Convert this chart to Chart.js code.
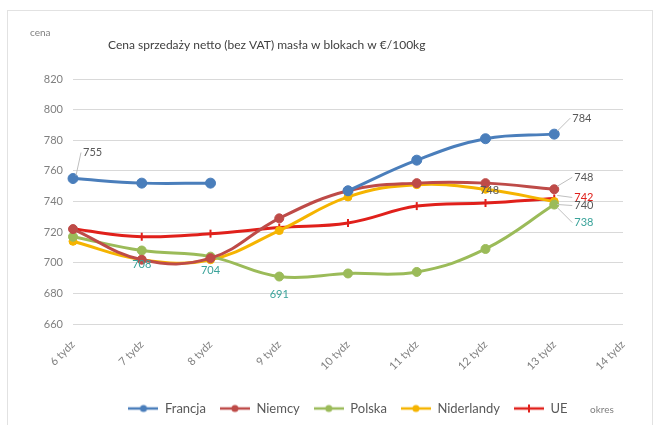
<!DOCTYPE html>
<html>
<head>
<meta charset="utf-8">
<script src="https://cdn.jsdelivr.net/npm/chart.js@4.4.1/dist/chart.umd.min.js"></script>
<style>
  body { margin: 0; background: #fff; }
  #wrap { position: absolute; left: 0; top: 0; width: 655px; height: 425px; }
  #frame { position: absolute; left: 7px; top: 10px; width: 644px; height: 420px; border: 1px solid #e2e2e2; }
</style>
</head>
<body>
<div id="frame"></div>
<div id="wrap"><canvas id="lineChart" width="655" height="425"></canvas></div>
<script>
// chart data
var weeks = ['6 tydz', '7 tydz', '8 tydz', '9 tydz', '10 tydz', '11 tydz', '12 tydz', '13 tydz', '14 tydz'];
var francja = [755, 752, 752, null, 747, 767, 781, 784, null];
var niemcy = [722, 702, 703, 729, 747, 752, 752, 748, null];
var polska = [717, 708, 704, 691, 693, 694, 709, 738, null];
var niderlandy = [714, 702, 702, 721, 743, 751, 748, 740, null];
var ue = [722, 717, 719, 723, 726, 737, 739, 742, null];
var yTicks = [660, 680, 700, 720, 740, 760, 780, 800, 820];

// which points carry a value label: [dataset, index, dx, dy, colour]
var valueLabels = [
    [0, 0, 10, -26, '#595959'],
    [0, 7, 18, -16, '#595959'],
    [2, 1, 0, 14, '#3aa39a'],
    [2, 2, 0, 14, '#3aa39a'],
    [2, 3, 0, 18, '#3aa39a'],
    [2, 7, 20, 18, '#3aa39a'],
    [1, 7, 20, -12, '#595959'],
    [4, 7, 20, -1, '#e0201b'],
    [3, 7, 20, 4, '#595959'],
    [3, 6, 4, 1, '#595959']
];

var FONT = 'Lato, "Open Sans", sans-serif';

function legendIcon(color, style) {
    var c = document.createElement('canvas');
    c.width = 30; c.height = 10;
    var g = c.getContext('2d');
    g.strokeStyle = color; g.lineWidth = 2.5;
    g.beginPath(); g.moveTo(0, 5); g.lineTo(30, 5); g.stroke();
    g.fillStyle = color;
    if (style === 'line') {
        g.lineWidth = 2; g.beginPath(); g.moveTo(15, 1); g.lineTo(15, 9); g.stroke();
    } else {
        g.beginPath(); g.arc(15, 5, 3.5, 0, Math.PI * 2); g.fill();
    }
    return c;
}

function series(label, data, color, style, radius) {
    return {
        label: label,
        data: data,
        borderColor: color,
        backgroundColor: color,
        pointBackgroundColor: color,
        pointBorderColor: color,
        pointStyle: style,
        pointRadius: radius,
        pointRotation: style === 'line' ? 90 : 0,
        pointBorderWidth: style === 'line' ? 2 : 1,
        borderWidth: 3,
        tension: 0.4,
        spanGaps: false,
        fill: false
    };
}

var textPlugin = {
    id: 'texts',
    afterDraw: function (chart) {
        var c = chart.ctx;
        c.save();
        c.fillStyle = '#404040';
        c.font = '12px ' + FONT;
        c.textBaseline = 'middle';
        c.fillText('Cena sprzedaży netto (bez VAT) masła w blokach w €/100kg', 108, 45);
        c.fillStyle = '#7f7f7f';
        c.font = '10px ' + FONT;
        c.fillText('cena', 30, 33);
        c.fillText('okres', 590, 410);
        c.restore();
    },
    afterDatasetsDraw: function (chart) {
        var c = chart.ctx;
        c.save();
        c.font = '11px ' + FONT;
        c.textBaseline = 'middle';
        valueLabels.forEach(function (v) {
            var ds = chart.data.datasets[v[0]];
            var val = ds.data[v[1]];
            var pt = chart.getDatasetMeta(v[0]).data[v[1]];
            var x = pt.x + v[2], y = pt.y + v[3];
            if (Math.abs(v[2]) > 8) {
                c.strokeStyle = '#bfbfbf'; c.lineWidth = 1;
                c.beginPath(); c.moveTo(pt.x + 3, pt.y + (v[3] > 0 ? 3 : -3)); c.lineTo(x - 2, y); c.stroke();
                c.textAlign = 'left';
            } else {
                c.textAlign = 'center';
            }
            c.fillStyle = v[4];
            c.fillText(String(val), x, y);
        });
        c.restore();
    }
};

var ctx = document.getElementById('lineChart').getContext('2d');
var myChart = new Chart(ctx, {
    type: 'line',
    data: {
        labels: weeks,
        datasets: [
            series('Francja', francja, '#4a7ebb', 'circle', 5),
            series('Niemcy', niemcy, '#be4b48', 'circle', 4.5),
            series('Polska', polska, '#9bbb59', 'circle', 4.5),
            series('Niderlandy', niderlandy, '#f5b400', 'circle', 4),
            series('UE', ue, '#e0201b', 'line', 4)
        ]
    },
    options: {
        responsive: false,
        animation: false,
        layout: { padding: { top: 79, right: 32, left: 0, bottom: 0 } },
        plugins: {
            title: { display: false },
            tooltip: { enabled: false },
            legend: {
                position: 'bottom',
                fullSize: false,
                labels: {
                    usePointStyle: true,
                    pointStyleWidth: 30,
                    color: '#595959',
                    font: { size: 13, family: FONT },
                    padding: 14,
                    generateLabels: function (chart) {
                        return chart.data.datasets.map(function (ds, i) {
                            return {
                                text: ds.label,
                                fontColor: '#595959',
                                pointStyle: legendIcon(ds.borderColor, ds.pointStyle),
                                datasetIndex: i,
                                hidden: false,
                                lineWidth: 0
                            };
                        });
                    }
                }
            }
        },
        scales: {
            x: {
                grid: { display: false },
                border: { display: false },
                ticks: {
                    color: '#7f7f7f',
                    font: { size: 11, family: FONT },
                    minRotation: 45,
                    maxRotation: 45,
                    autoSkip: false,
                    padding: 6
                },
                afterFit: function (s) { s.height = 64; }
            },
            y: {
                min: 660,
                max: 820,
                afterBuildTicks: function (s) { s.ticks = yTicks.map(function (v) { return { value: v }; }); },
                ticks: { color: '#7f7f7f', font: { size: 11, family: FONT }, padding: 10 },
                grid: { color: '#d9d9d9', drawTicks: false },
                border: { display: false },
                afterFit: function (s) { s.width = 73; }
            }
        }
    },
    plugins: [textPlugin]
});
</script>
</body>
</html>
